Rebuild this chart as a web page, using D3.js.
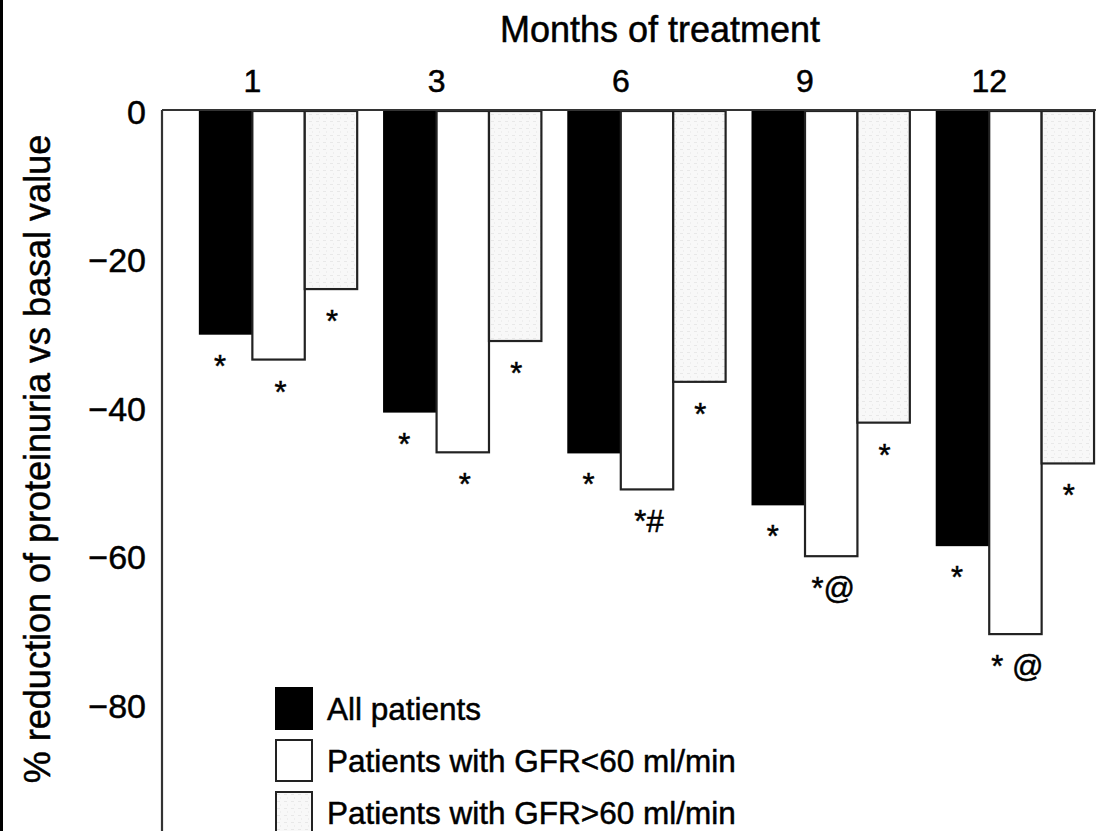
<!DOCTYPE html>
<html>
<head>
<meta charset="utf-8">
<script src="https://cdn.jsdelivr.net/npm/d3@7"></script>
<style>
  body { margin: 0; background: #fff; }
  text { font-family: "Liberation Sans", Arial, Helvetica, sans-serif; fill: #000; stroke: #000; stroke-width: 0.5px; }
</style>
</head>
<body>
<div id="chart"></div>
<script>
// data
var months = ["1", "3", "6", "9", "12"];
var seriesNames = ["All patients", "Patients with GFR<60 ml/min", "Patients with GFR>60 ml/min"];
var allPatients = [-30, -40.5, -46, -53, -58.5];
var gfrBelow60 = [-33.5, -46, -51, -60, -70.5];
var gfrAbove60 = [-24, -31, -36.5, -42, -47.5];
var marksAll = ["*", "*", "*", "*", "*"];
var marksBelow = ["*", "*", "*#", "*@", "* @"];
var marksAbove = ["*", "*", "*", "*", "*"];
var yTicks = [0, -20, -40, -60, -80];

var svgWidth = 1096;
var svgHeight = 831;

var svg = d3.select("#chart")
  .append("svg")
  .attr("width", svgWidth)
  .attr("height", svgHeight);

// grey dotted fill for third series
var defs = svg.append("defs");
var pat = defs.append("pattern")
  .attr("id", "dots")
  .attr("patternUnits", "userSpaceOnUse")
  .attr("width", 7)
  .attr("height", 7);
pat.append("rect").attr("width", 7).attr("height", 7).attr("fill", "#f8f8f8");
pat.append("rect").attr("x", 1).attr("y", 2).attr("width", 3).attr("height", 1).attr("fill", "#e8e8e8");
pat.append("rect").attr("x", 4).attr("y", 5).attr("width", 1).attr("height", 2).attr("fill", "#eeeeee");

var series = [
  { name: seriesNames[0], values: allPatients, marks: marksAll, fill: "#000", stroke: "#000", dx: -6 },
  { name: seriesNames[1], values: gfrBelow60, marks: marksBelow, fill: "#fff", stroke: "#222", dx: 2 },
  { name: seriesNames[2], values: gfrAbove60, marks: marksAbove, fill: "url(#dots)", stroke: "#222", dx: 1 }
];

// scales
var x0 = d3.scaleBand()
  .domain(months)
  .range([162, 1132])
  .paddingInner(0.1465)
  .paddingOuter(0.206);

var x1 = d3.scaleBand()
  .domain(series.map(s => s.name))
  .range([0, x0.bandwidth()]);

var y = d3.scaleLinear()
  .domain([0, -97])
  .range([111, 111 + 97 * 7.42]);

// left black edge of the scan
svg.append("rect")
  .attr("x", 0).attr("y", 0)
  .attr("width", 3).attr("height", svgHeight)
  .attr("fill", "#000");

// bars
series.forEach(function(s) {
  svg.append("g").selectAll("rect")
    .data(months)
    .enter()
    .append("rect")
    .attr("x", (m, i) => x0(m) + x1(s.name))
    .attr("y", y(0))
    .attr("width", x1.bandwidth())
    .attr("height", (m, i) => y(s.values[i]) - y(0))
    .attr("fill", s.fill)
    .attr("stroke", s.stroke)
    .attr("stroke-width", 2.2);

  svg.append("g").selectAll("text")
    .data(months)
    .enter()
    .append("text")
    .attr("x", (m, i) => x0(m) + x1(s.name) + x1.bandwidth() / 2 + s.dx)
    .attr("y", (m, i) => y(s.values[i]) + 43)
    .attr("text-anchor", "middle")
    .attr("font-size", 31)
    .text((m, i) => s.marks[i]);
});

// frame: top and left axis lines
svg.append("line")
  .attr("x1", 162).attr("x2", svgWidth)
  .attr("y1", 110).attr("y2", 110)
  .attr("stroke", "#333").attr("stroke-width", 2.2);
svg.append("line")
  .attr("x1", 162).attr("x2", 162)
  .attr("y1", 110).attr("y2", svgHeight)
  .attr("stroke", "#333").attr("stroke-width", 2.2);

// y tick labels (no tick marks in the original)
svg.append("g").selectAll("text")
  .data(yTicks)
  .enter()
  .append("text")
  .attr("x", 146)
  .attr("y", d => y(d) + 13)
  .attr("text-anchor", "end")
  .attr("font-size", 34)
  .text(d => d === 0 ? "0" : "\u2212" + Math.abs(d));

// month labels on top
svg.append("g").selectAll("text")
  .data(months)
  .enter()
  .append("text")
  .attr("x", m => x0(m) + x1(seriesNames[1]))
  .attr("y", 92)
  .attr("text-anchor", "middle")
  .attr("font-size", 32)
  .text(m => m);

svg.append("text")
  .attr("x", 660)
  .attr("y", 42)
  .attr("text-anchor", "middle")
  .attr("font-size", 36)
  .text("Months of treatment");

svg.append("text")
  .attr("transform", "translate(50, 459) rotate(-90)")
  .attr("text-anchor", "middle")
  .attr("font-size", 36)
  .text("% reduction of proteinuria vs basal value");

// legend
var legend = svg.append("g")
  .attr("transform", "translate(276, 688)");

var rows = legend.selectAll("g")
  .data(series)
  .enter()
  .append("g")
  .attr("transform", (d, i) => `translate(0, ${i * 52})`);

rows.append("rect")
  .attr("width", 36)
  .attr("height", 41)
  .attr("fill", d => d.fill)
  .attr("stroke", d => d.stroke)
  .attr("stroke-width", 2);

rows.append("text")
  .attr("x", 51)
  .attr("y", 32)
  .attr("font-size", 31.5)
  .text(d => d.name);
</script>
</body>
</html>
